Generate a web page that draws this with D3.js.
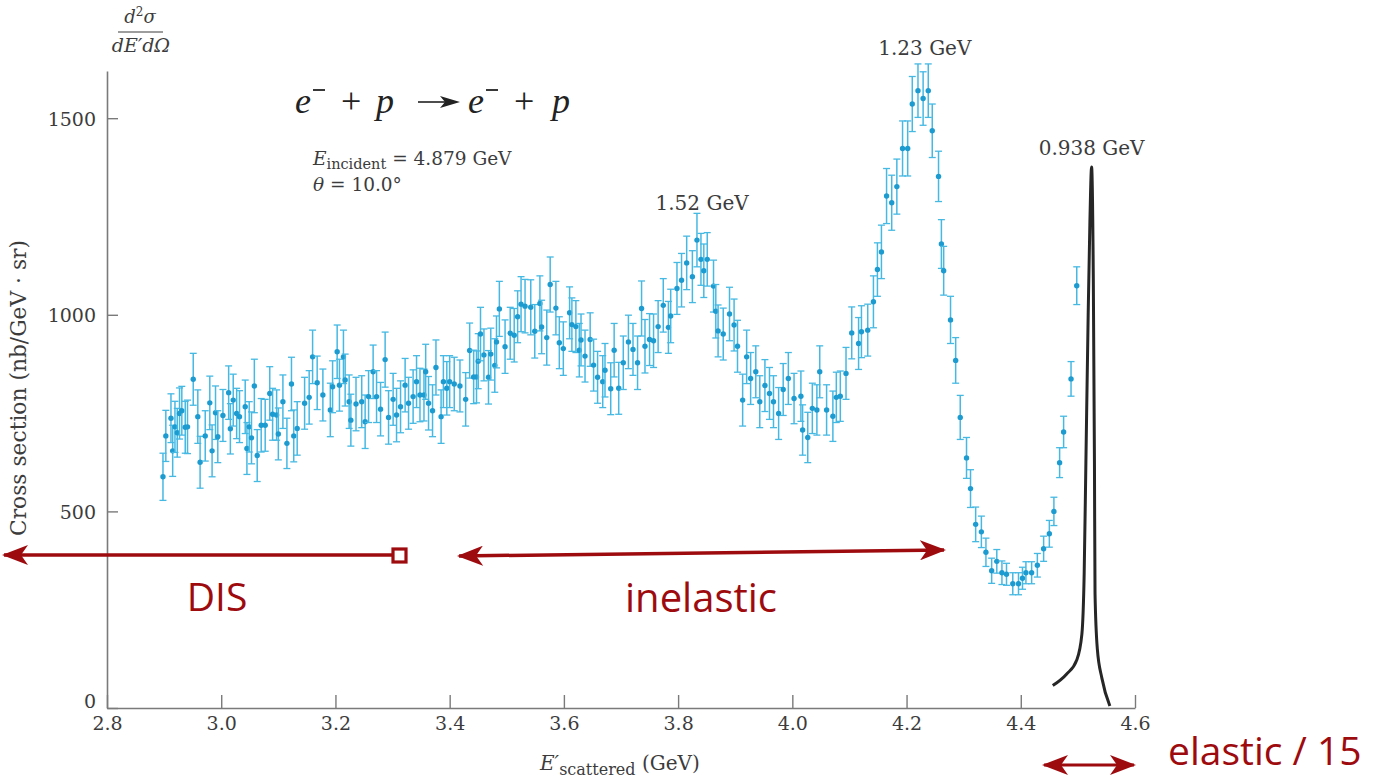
<!DOCTYPE html>
<html>
<head>
<meta charset="utf-8">
<script src="https://cdn.jsdelivr.net/npm/d3@7"></script>
<style>
  html, body { margin: 0; padding: 0; background: #fff; }
  svg { display: block; }
</style>
</head>
<body>
<div id="chart"></div>
<script>
// Scattered energy E' (GeV), cross section (nb/GeV·sr) and error bar half-length
const energy = [
  2.898, 2.903, 2.912, 2.915, 2.919, 2.923, 2.927, 2.931, 2.937, 2.941,
  2.951, 2.959, 2.963, 2.972, 2.980, 2.984, 2.990, 2.994, 3.003, 3.013,
  3.016, 3.021, 3.027, 3.032, 3.042, 3.045, 3.049, 3.053, 3.058, 3.063,
  3.070, 3.077, 3.085, 3.090, 3.097, 3.100, 3.108, 3.115, 3.123, 3.127,
  3.133, 3.146, 3.154, 3.160, 3.168, 3.178, 3.191, 3.195, 3.203, 3.207,
  3.214, 3.217, 3.224, 3.227, 3.236, 3.246, 3.252, 3.258, 3.266, 3.272,
  3.279, 3.287, 3.293, 3.301, 3.307, 3.314, 3.322, 3.328, 3.336, 3.342,
  3.348, 3.355, 3.358, 3.363, 3.370, 3.376, 3.385, 3.389, 3.395, 3.400,
  3.408, 3.418, 3.428, 3.435, 3.442, 3.447, 3.450, 3.454, 3.460, 3.468,
  3.472, 3.479, 3.482, 3.487, 3.497, 3.506, 3.513, 3.519, 3.525, 3.532,
  3.542, 3.549, 3.558, 3.561, 3.570, 3.576, 3.586, 3.592, 3.599, 3.610,
  3.614, 3.621, 3.627, 3.630, 3.637, 3.646, 3.652, 3.659, 3.668, 3.672,
  3.682, 3.688, 3.696, 3.704, 3.713, 3.721, 3.729, 3.736, 3.742, 3.750,
  3.757, 3.765, 3.774, 3.783, 3.787, 3.798, 3.806, 3.815, 3.825, 3.833,
  3.840, 3.845, 3.851, 3.862, 3.866, 3.870, 3.879, 3.890, 3.898, 3.904,
  3.913, 3.920, 3.927, 3.936, 3.943, 3.952, 3.960, 3.967, 3.976, 3.984,
  3.993, 4.003, 4.015, 4.018, 4.027, 4.035, 4.043, 4.048, 4.060, 4.071,
  4.077, 4.084, 4.094, 4.104, 4.116, 4.121, 4.132, 4.142, 4.149, 4.156,
  4.165, 4.174, 4.183, 4.193, 4.202, 4.210, 4.220, 4.229, 4.238, 4.245,
  4.256, 4.261, 4.265, 4.277, 4.286, 4.294, 4.305, 4.312, 4.321, 4.331,
  4.339, 4.349, 4.358, 4.367, 4.375, 4.386, 4.396, 4.403, 4.409, 4.419,
  4.429, 4.440, 4.450, 4.458, 4.468, 4.475, 4.488, 4.498
];
const crossSection = [
  588, 692, 737, 654, 715, 700, 749, 756, 714, 715,
  836, 741, 625, 692, 776, 654, 751, 690, 744, 802,
  710, 783, 749, 741, 766, 660, 715, 687, 819, 642,
  719, 719, 800, 747, 745, 697, 779, 673, 824, 692,
  711, 775, 790, 893, 827, 796, 758, 817, 906, 821,
  893, 834, 779, 732, 773, 779, 728, 792, 855, 792,
  760, 886, 739, 785, 745, 766, 821, 775, 792, 830,
  796, 796, 855, 775, 756, 866, 741, 830, 813, 830,
  824, 819, 785, 909, 842, 842, 882, 951, 898, 841,
  900, 871, 931, 1015, 919, 953, 948, 995, 1027, 1022,
  1019, 958, 1029, 969, 942, 1077, 1017, 929, 914, 1005,
  975, 970, 910, 936, 895, 937, 872, 841, 830, 859,
  812, 910, 813, 878, 931, 912, 878, 1016, 920, 937,
  934, 970, 1024, 968, 997, 1067, 1088, 1132, 1097, 1190,
  1141, 1112, 1141, 1073, 1009, 959, 951, 1002, 974, 920,
  783, 893, 838, 855, 779, 820, 800, 779, 749, 810,
  838, 787, 793, 707, 688, 762, 758, 855, 758, 742,
  790, 793, 851, 954, 927, 957, 961, 1033, 1115, 1160,
  1302, 1285, 1326, 1423, 1423, 1536, 1570, 1550, 1570, 1468,
  1352, 1180, 1112, 987, 884, 739, 636, 558, 467, 448,
  396, 349, 373, 344, 340, 316, 316, 330, 344, 344,
  363, 405, 443, 500, 624, 702, 837, 1074
];
const errorBar = [
  60, 65, 62, 65, 65, 62, 65, 62, 66, 68,
  66, 68, 66, 64, 68, 66, 68, 66, 66, 68,
  64, 66, 64, 66, 68, 66, 64, 66, 68, 66,
  68, 66, 68, 66, 64, 66, 68, 64, 68, 66,
  68, 66, 68, 68, 68, 66, 68, 66, 68, 66,
  68, 66, 68, 66, 68, 66, 68, 66, 68, 66,
  68, 70, 68, 66, 68, 66, 68, 66, 68, 66,
  68, 66, 70, 68, 66, 70, 68, 66, 68, 66,
  68, 66, 68, 70, 68, 66, 70, 68, 66, 68,
  66, 68, 66, 70, 68, 66, 68, 66, 70, 68,
  70, 68, 70, 68, 70, 70, 68, 66, 68, 66,
  68, 66, 68, 66, 66, 68, 66, 66, 66, 68,
  66, 68, 66, 68, 68, 66, 68, 70, 68, 66,
  68, 66, 68, 66, 68, 66, 68, 68, 66, 68,
  66, 68, 68, 66, 68, 66, 66, 68, 66, 66,
  66, 68, 66, 66, 66, 66, 66, 66, 66, 66,
  66, 64, 64, 64, 64, 64, 64, 66, 64, 64,
  64, 64, 66, 66, 66, 66, 66, 66, 68, 68,
  70, 70, 70, 70, 70, 70, 68, 68, 68, 68,
  64, 62, 62, 60, 58, 56, 52, 48, 44, 40,
  36, 32, 30, 30, 28, 28, 28, 28, 28, 28,
  30, 32, 34, 36, 38, 40, 44, 48
];

// Elastic peak (scaled by 1/15)
const elasticEnergy = [4.456, 4.480, 4.498, 4.507, 4.511, 4.514, 4.518, 4.521, 4.524,
  4.527, 4.529, 4.530, 4.534, 4.542, 4.556];
const elasticValue = [57, 86, 122, 188, 341, 623, 999, 1234, 1376,
  1093, 623, 292, 151, 76, 5];

const xTicks = [2.8, 3.0, 3.2, 3.4, 3.6, 3.8, 4.0, 4.2, 4.4, 4.6];
const yTicks = [0, 500, 1000, 1500];

const peakLabels = [
  { text: '1.52 GeV', e: 3.842, v: 1266 },
  { text: '1.23 GeV', e: 4.232, v: 1661 },
  { text: '0.938 GeV', e: 4.524, v: 1406 }
];

const width = 1381;
const height = 778;

const svg = d3.select('#chart')
  .append('svg')
  .attr('width', width)
  .attr('height', height);

const x = d3.scaleLinear().domain([2.8, 4.6]).range([107, 1135]);
const y = d3.scaleLinear().domain([0, 1620]).range([708, 71]);

const serif = 'DejaVu Serif';
const timesLike = 'Liberation Serif';
const axisColor = '#7a7a7a';
const textColor = '#3c3c3c';
const red = '#9e0b0f';

// Axes
const xAxis = svg.append('g')
  .attr('transform', 'translate(0,708)')
  .call(d3.axisBottom(x).tickValues(xTicks).tickFormat(d3.format('.1f'))
    .tickSize(-13).tickSizeOuter(0).tickPadding(9));

const yAxis = svg.append('g')
  .attr('transform', 'translate(107,0)')
  .call(d3.axisLeft(y).tickValues(yTicks).tickFormat(d3.format('d'))
    .tickSize(-11).tickSizeOuter(0).tickPadding(11));

[xAxis, yAxis].forEach(g => {
  g.select('.domain').attr('stroke', axisColor).attr('stroke-width', 1.6);
  g.selectAll('.tick line').attr('stroke', axisColor).attr('stroke-width', 1.4);
  g.selectAll('.tick text')
    .attr('fill', textColor)
    .attr('font-family', serif)
    .attr('font-size', '19px');
});
yAxis.selectAll('.tick text').attr('dy', d => d === 0 ? '-0.05em' : '0.36em');

// Y axis title (fraction) and rotated label
const frac = svg.append('g').attr('fill', textColor).attr('font-family', serif);
frac.append('text')
  .attr('x', 140).attr('y', 23)
  .attr('text-anchor', 'middle')
  .attr('font-size', '18px')
  .attr('font-style', 'italic')
  .html('d<tspan dy="-7" font-size="12px" font-style="normal">2</tspan><tspan dy="7">σ</tspan>');
frac.append('line')
  .attr('x1', 118).attr('x2', 163).attr('y1', 32).attr('y2', 32)
  .attr('stroke', textColor).attr('stroke-width', 1.2);
frac.append('text')
  .attr('x', 141).attr('y', 52)
  .attr('text-anchor', 'middle')
  .attr('font-size', '19px')
  .attr('font-style', 'italic')
  .text('dE′dΩ');

const yTitle = svg.append('text')
  .attr('transform', 'translate(26,388) rotate(-90)')
  .attr('text-anchor', 'middle')
  .attr('fill', textColor)
  .attr('font-family', serif)
  .attr('font-size', '20px')
  .text('Cross section (nb/GeV · sr)');
// fit the label to the span it covers in the original
const yTitleLen = yTitle.node().getComputedTextLength();
yTitle.attr('font-size', (20 * 296 / yTitleLen).toFixed(2) + 'px');

// X axis title
svg.append('text')
  .attr('x', 540).attr('y', 770)
  .attr('fill', textColor)
  .attr('font-family', serif)
  .attr('font-size', '20px')
  .html('<tspan font-style="italic">E′</tspan><tspan dy="5" font-size="16px">scattered</tspan><tspan dy="-5"> (GeV)</tspan>');

// Reaction: e- + p -> e- + p
const reaction = svg.append('g')
  .attr('fill', '#222')
  .attr('font-family', timesLike)
  .attr('font-size', '36px');
const reactionParts = [
  { t: 'e', x: 295, it: true }, { t: '+', x: 341 },
  { t: 'p', x: 376, it: true }, { t: 'e', x: 468, it: true },
  { t: '+', x: 514 }, { t: 'p', x: 552, it: true }
];
reactionParts.forEach(p => {
  reaction.append('text')
    .attr('x', p.x).attr('y', 113)
    .attr('font-style', p.it ? 'italic' : 'normal')
    .text(p.t);
});
// superscript minus signs
[313, 486].forEach(mx => {
  reaction.append('line')
    .attr('x1', mx).attr('x2', mx + 12).attr('y1', 90).attr('y2', 90)
    .attr('stroke', '#222').attr('stroke-width', 1.8);
});
reaction.append('line')
  .attr('x1', 418).attr('x2', 448).attr('y1', 102).attr('y2', 102)
  .attr('stroke', '#222').attr('stroke-width', 1.6);
reaction.append('path')
  .attr('d', 'M440,96 L460,102 L440,108 L445,102 Z')
  .attr('fill', '#222');

svg.append('text')
  .attr('x', 313).attr('y', 165)
  .attr('fill', textColor)
  .attr('font-family', serif)
  .attr('font-size', '18.5px')
  .html('<tspan font-style="italic">E</tspan><tspan dy="4" font-size="14.5px">incident</tspan><tspan dy="-4"> = 4.879 GeV</tspan>');

svg.append('text')
  .attr('x', 313).attr('y', 191)
  .attr('fill', textColor)
  .attr('font-family', serif)
  .attr('font-size', '18.5px')
  .html('<tspan font-style="italic">θ</tspan> = 10.0°');

// Peak labels
svg.selectAll('.peak-label')
  .data(peakLabels)
  .enter()
  .append('text')
  .attr('class', 'peak-label')
  .attr('x', d => x(d.e))
  .attr('y', d => y(d.v))
  .attr('text-anchor', 'middle')
  .attr('fill', textColor)
  .attr('font-family', serif)
  .attr('font-size', '20px')
  .text(d => d.text);

// Elastic peak curve
const elastic = elasticEnergy.map((e, i) => ({ e, v: elasticValue[i] }));
svg.append('path')
  .datum(elastic)
  .attr('fill', 'none')
  .attr('stroke', '#262626')
  .attr('stroke-width', 3)
  .attr('d', d3.line().x(d => x(d.e)).y(d => y(d.v)).curve(d3.curveMonotoneX));

// Data points with error bars
const points = energy.map((e, i) => ({ e, v: crossSection[i], err: errorBar[i] }));
const barColor = '#46b9e3';
const pts = svg.append('g').selectAll('.pt')
  .data(points)
  .enter()
  .append('g')
  .attr('class', 'pt');

pts.append('line')
  .attr('x1', d => x(d.e)).attr('x2', d => x(d.e))
  .attr('y1', d => y(d.v - d.err)).attr('y2', d => y(d.v + d.err))
  .attr('stroke', barColor).attr('stroke-width', 1.5);
pts.append('line')
  .attr('x1', d => x(d.e) - 3.5).attr('x2', d => x(d.e) + 3.5)
  .attr('y1', d => y(d.v + d.err)).attr('y2', d => y(d.v + d.err))
  .attr('stroke', barColor).attr('stroke-width', 1.3);
pts.append('line')
  .attr('x1', d => x(d.e) - 3.5).attr('x2', d => x(d.e) + 3.5)
  .attr('y1', d => y(d.v - d.err)).attr('y2', d => y(d.v - d.err))
  .attr('stroke', barColor).attr('stroke-width', 1.3);
pts.append('circle')
  .attr('cx', d => x(d.e)).attr('cy', d => y(d.v))
  .attr('r', 2.7)
  .attr('fill', '#1c9bd0');

// Red region annotations
const defs = svg.append('defs');
defs.append('marker')
  .attr('id', 'head')
  .attr('viewBox', '0 0 26 20')
  .attr('refX', 24).attr('refY', 10)
  .attr('markerWidth', 26).attr('markerHeight', 20)
  .attr('markerUnits', 'userSpaceOnUse')
  .attr('orient', 'auto-start-reverse')
  .append('path')
  .attr('d', 'M0,0 L26,10 L0,20 L7,10 Z')
  .attr('fill', red);

const ann = svg.append('g');
// DIS
ann.append('line')
  .attr('x1', 392).attr('y1', 555).attr('x2', 4).attr('y2', 555)
  .attr('stroke', red).attr('stroke-width', 3.5)
  .attr('marker-end', 'url(#head)');
ann.append('rect')
  .attr('x', 393).attr('y', 549).attr('width', 13).attr('height', 13)
  .attr('fill', '#fff').attr('stroke', red).attr('stroke-width', 3.2);
// inelastic
ann.append('line')
  .attr('x1', 459).attr('y1', 556).attr('x2', 944).attr('y2', 550)
  .attr('stroke', red).attr('stroke-width', 3.5)
  .attr('marker-start', 'url(#head)')
  .attr('marker-end', 'url(#head)');
// elastic
ann.append('line')
  .attr('x1', 1044).attr('y1', 765).attr('x2', 1134).attr('y2', 765)
  .attr('stroke', red).attr('stroke-width', 3.2)
  .attr('marker-start', 'url(#head)')
  .attr('marker-end', 'url(#head)');

const annFont = 'Open Sans';
[
  { t: 'DIS', x: 217, y: 611, a: 'middle', s: 39 },
  { t: 'inelastic', x: 701, y: 612, a: 'middle', s: 40 },
  { t: 'elastic / 15', x: 1168, y: 765, a: 'start', s: 39 }
].forEach(d => {
  ann.append('text')
    .attr('x', d.x).attr('y', d.y)
    .attr('text-anchor', d.a)
    .attr('fill', red)
    .attr('font-family', annFont)
    .attr('font-size', d.s + 'px')
    .text(d.t);
});
</script>
</body>
</html>
